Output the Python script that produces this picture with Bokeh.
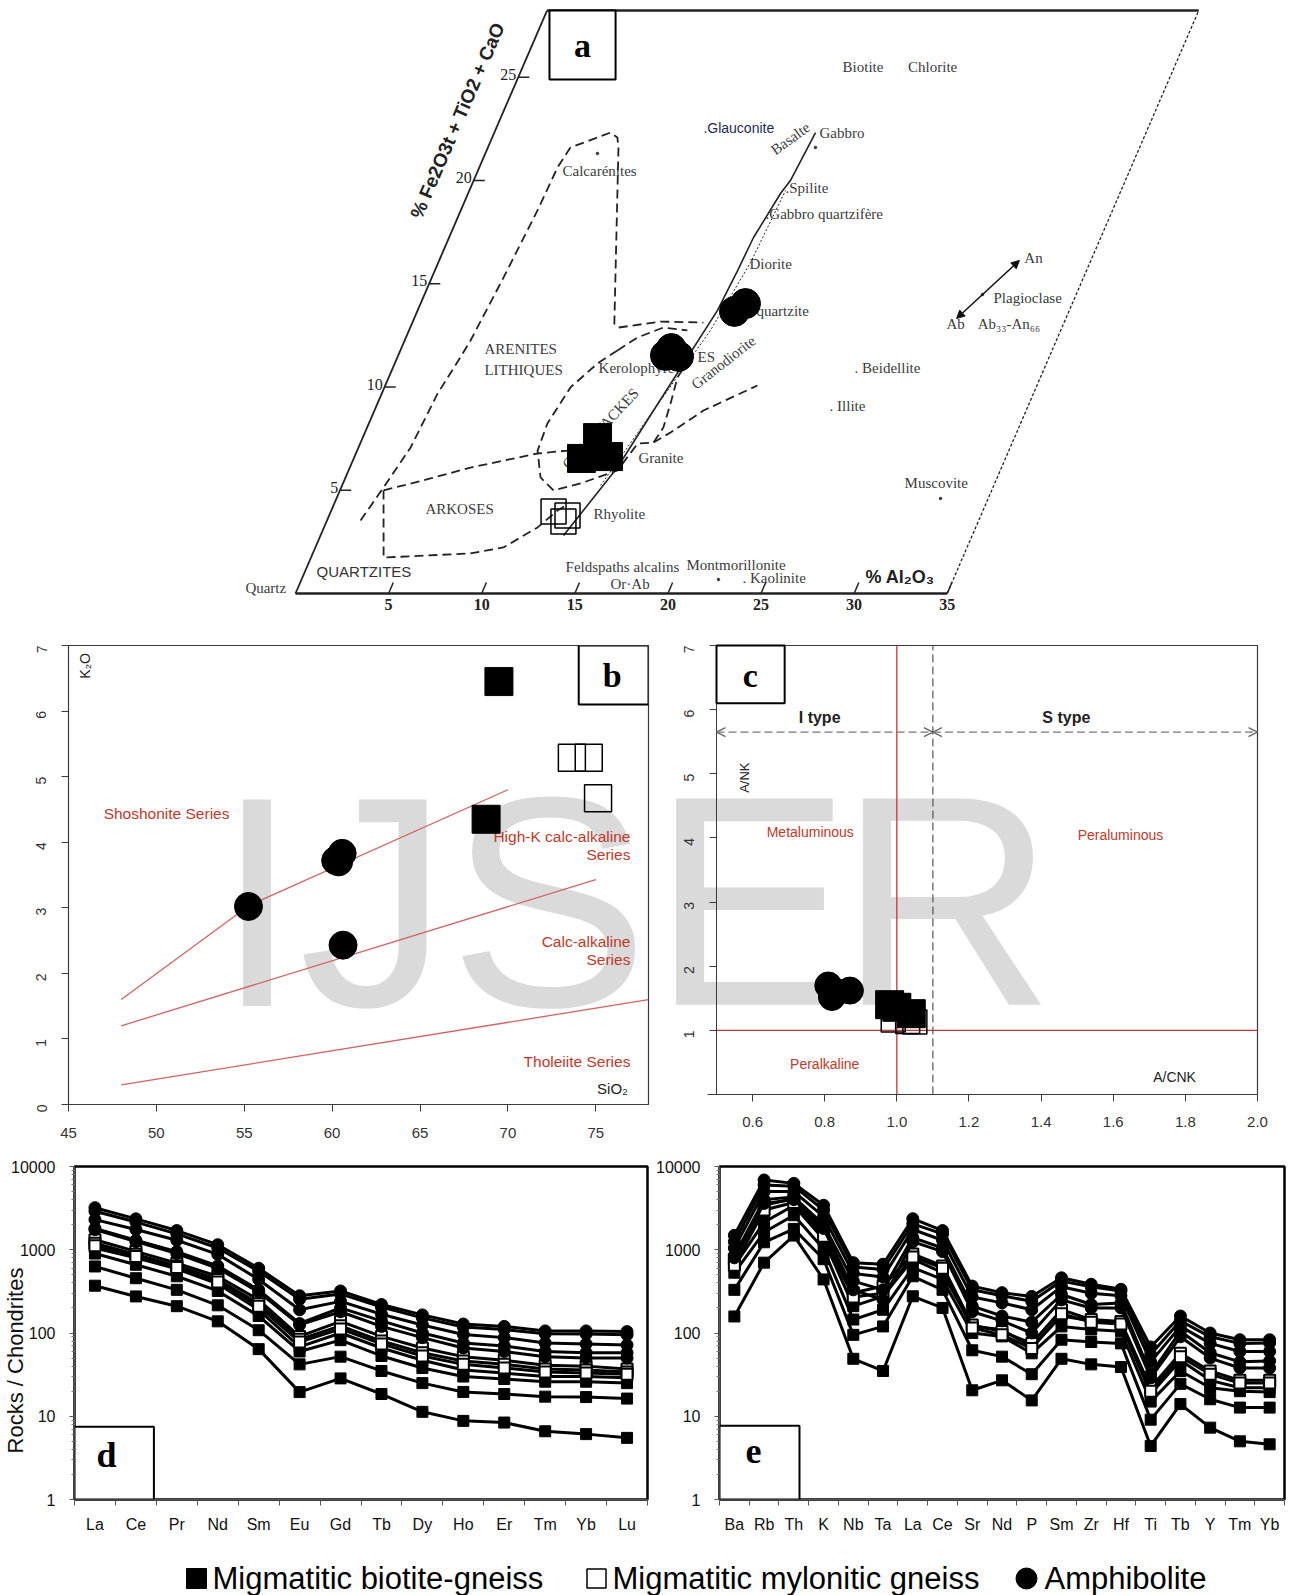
import math
from bokeh.plotting import figure
from bokeh.layouts import column, row
from bokeh.models import Range1d, FixedTicker, Label, BoxAnnotation, Arrow, NormalHead, OpenHead
from bokeh.core.properties import value
from bokeh.embed import file_html
from bokeh.resources import INLINE

SANS = "Liberation Sans"
SERIF = "Liberation Serif"
RED_LINE = "#d06464"
RED_TEXT = "#c0392b"
AXC = "#3a3a3a"
GTXT = "#3c3c3c"
WM = "#dadada"

# ======================= DATA =======================
# ---- panel a (Al2O3 vs Fe2O3t+TiO2+CaO, skewed diagram) ----
A_AL_TICKS = [5, 10, 15, 20, 25, 30, 35]
A_F_TICKS = [5, 10, 15, 20, 25]
A_AL_MAX = 35
A_F_MAX = 28.23

A_BIO_AL = [12.61, 12.23, 13.64]
A_BIO_F = [7.55, 6.54, 6.63]
A_MYL_AL = [11.96, 12.72, 12.80]
A_MYL_F = [3.97, 3.49, 3.78]
A_AMP_AL = [14.35, 15.08, 14.51, 17.04, 17.45]
A_AMP_F = [11.53, 11.48, 11.86, 13.66, 14.04]

OUTER_AL = [1.80, 2.27, 2.80, 3.00, 3.35, 3.54, 3.85, 4.12, 4.20, 4.43, 5.65, 6.24, 6.72, 7.01, 10.87, 11.19, 13.30, 15.63]
OUTER_F = [3.54, 5.13, 7.07, 9.69, 11.28, 12.25, 15.30, 18.55, 20.63, 21.60, 22.08, 22.32, 22.08, 21.60, 13.07, 12.88, 13.17, 13.12]
INNER_AL = [11.66, 12.44, 13.60, 14.95]
INNER_F = [11.77, 12.40, 12.88, 12.74]
GRAUW_AL = [11.66, 10.89, 9.99, 9.59, 9.69, 10.47, 11.47, 12.76, 14.44, 14.90, 15.73, 15.91, 15.74, 15.51, 15.74]
GRAUW_F = [11.77, 11.14, 9.98, 8.23, 6.92, 5.62, 4.99, 5.33, 5.96, 7.26, 7.31, 8.04, 9.20, 10.46, 11.43]
LOWER_AL = [15.73, 16.41, 17.67, 19.99]
LOWER_F = [7.31, 7.80, 8.86, 10.07]
ARKTOP_AL = [2.34, 4.58, 6.48, 9.76, 11.30, 11.95]
ARKTOP_F = [4.99, 5.57, 6.10, 6.78, 6.92, 7.02]
ARKBOT_AL = [2.34, 3.90, 8.47, 10.10, 11.47, 12.15, 12.46]
ARKBOT_F = [4.99, 1.74, 1.94, 2.23, 3.20, 4.02, 4.26]
MAGMA_AL = [13.05, 14.37, 14.99, 15.51, 16.10, 16.26, 16.35, 16.78, 17.01, 17.25]
MAGMA_F = [2.81, 6.10, 8.86, 11.14, 13.70, 15.64, 17.24, 19.37, 20.00, 22.32]
DOTTED_AL = [13.88, 15.13, 16.19, 16.77, 16.98]
DOTTED_F = [5.23, 9.35, 12.74, 16.03, 19.52]
PLAG_AL = [29.13, 31.16]
PLAG_F = [13.32, 16.13]
MINDOT_AL = [32.44, 22.39, 17.59, 29.97, 6.02]
MINDOT_F = [4.60, 0.68, 21.60, 14.48, 21.31]

LBL_TEXT = ["Biotite", "Chlorite", "Gabbro", ".Spilite", ".Gabbro quartzifère", "Diorite", "quartzite",
            "An", "Plagioclase", "Ab", "Ab₃₃-An₆₆", ". Beidellite", ". Illite", "Muscovite",
            "Kerolophyre", "Granite", "Rhyolite", "Quartz", "Feldspaths alcalins", "Or·Ab",
            "Montmorillonite", ". Kaolinite", "Calcarénites"]
LBL_AL = [17.17, 20.69, 17.48, 16.91, 16.44, 16.73, 18.20, 31.36, 30.65, 28.73, 30.40, 24.81, 24.35, 30.16,
          11.06, 15.29, 14.15, -2.83, 13.90, 16.69, 20.35, 23.64, 4.54]
LBL_F = [25.52, 25.52, 22.28, 19.66, 18.40, 15.98, 13.70, 16.27, 14.29, 13.03, 13.03, 10.90, 9.06, 5.33,
         10.90, 6.54, 3.87, 0.29, 1.26, 0.48, 1.36, 0.77, 20.48]
CAPS_TEXT = ["ARENITES", "LITHIQUES", "ARKOSES", "ES"]
CAPS_AL = [4.47, 4.98, 5.03, 16.12]
CAPS_F = [11.86, 10.80, 4.07, 11.43]
ROT_TEXT = ["Basalte", "Granodiorite", "GRAUWACKES"]
ROT_AL = [16.04, 17.63, 12.56]
ROT_F = [22.03, 11.19, 7.99]
ROT_DEG = [36, 38, 47]

# ---- panel b (SiO2 vs K2O) ----
B_X_TICKS = [45, 50, 55, 60, 65, 70, 75]
B_Y_TICKS = [0, 1, 2, 3, 4, 5, 6, 7]
B_BIO_SIO2 = [69.49, 68.76]
B_BIO_K2O = [6.45, 4.35]
B_MYL_SIO2 = [73.64, 74.60, 75.13]
B_MYL_K2O = [5.29, 5.29, 4.67]
B_AMP_SIO2 = [55.24, 60.57, 60.37, 60.20, 60.62]
B_AMP_K2O = [3.02, 3.83, 3.70, 3.72, 2.43]
SHO_SIO2 = [48, 55.3, 70]
SHO_K2O = [1.6, 3.04, 4.80]
HK_SIO2 = [48, 75]
HK_K2O = [1.2, 3.43]
TH_SIO2 = [48, 78]
TH_K2O = [0.3, 1.6]
B_SERIES_TEXT = ["High-K calc-alkaline", "Series", "Calc-alkaline", "Series", "Tholeiite Series"]
B_SERIES_Y = [4.08, 3.81, 2.48, 2.21, 0.65]

# ---- panel c (A/CNK vs A/NK) ----
C_X_TICKS = [0.6, 0.8, 1.0, 1.2, 1.4, 1.6, 1.8, 2.0]
C_Y_TICKS = [0, 1, 2, 3, 4, 5, 6, 7]
C_X_MIN, C_X_MAX = 0.5, 2.0
C_Y_MIN, C_Y_MAX = 0, 7
C_BIO_ACNK = [0.98, 1.04, 1.00]
C_BIO_ANK = [1.40, 1.26, 1.36]
C_MYL_ACNK = [0.99, 1.03, 1.05]
C_MYL_ANK = [1.16, 1.14, 1.13]
C_AMP_ACNK = [0.81, 0.82, 0.87, 0.83]
C_AMP_ANK = [1.70, 1.52, 1.62, 1.60]

# ---- panel d (REE / chondrite) ----
D_CATS = ["La", "Ce", "Pr", "Nd", "Sm", "Eu", "Gd", "Tb", "Dy", "Ho", "Er", "Tm", "Yb", "Lu"]
D_BIO_1 = [1050, 800, 590, 390, 190, 68, 100, 66, 47, 36, 33, 30, 30, 29]
D_BIO_2 = [900, 660, 480, 320, 160, 60, 82, 53, 38, 30, 28, 26, 26, 25]
D_BIO_3 = [630, 455, 330, 215, 108, 42, 52, 35, 25, 19.6, 18.5, 17.2, 17, 16.3]
D_BIO_4 = [370, 275, 210, 138, 64, 19.5, 28.5, 18.5, 11.3, 8.8, 8.4, 6.6, 6.1, 5.5]
D_MYL_1 = [1320, 955, 690, 480, 250, 91, 138, 91, 66, 52, 47, 41, 40, 37]
D_MYL_2 = [1200, 880, 640, 440, 225, 84, 122, 80, 58, 46, 42, 37, 36, 34]
D_MYL_3 = [1120, 830, 610, 410, 210, 78, 112, 74, 53, 42, 38, 34, 33, 32]
D_AMP_1 = [3200, 2350, 1700, 1150, 600, 280, 320, 220, 165, 128, 120, 106, 106, 104]
D_AMP_2 = [2900, 2150, 1550, 1050, 550, 255, 295, 205, 152, 118, 110, 98, 97, 95]
D_AMP_3 = [2300, 1750, 1300, 880, 440, 190, 240, 168, 125, 96, 88, 76, 74, 72]
D_AMP_4 = [1800, 1300, 950, 640, 330, 130, 200, 140, 100, 76, 70, 60, 58, 58]
D_AMP_5 = [1750, 1250, 900, 600, 310, 125, 180, 120, 88, 66, 60, 52, 50, 50]

# ---- panel e (multi-element spider) ----
E_CATS = ["Ba", "Rb", "Th", "K", "Nb", "Ta", "La", "Ce", "Sr", "Nd", "P", "Sm", "Zr", "Hf", "Ti", "Tb", "Y", "Tm", "Yb"]
E_BIO_1 = [640, 2150, 3400, 1340, 210, 275, 770, 530, 120, 110, 68, 160, 140, 130, 18.5, 47, 27, 22, 22]
E_BIO_2 = [530, 1620, 2600, 1020, 145, 190, 610, 440, 100, 91, 57, 120, 110, 105, 15, 35, 22, 20, 19.5]
E_BIO_3 = [330, 1230, 1780, 770, 95, 120, 480, 330, 62, 52, 32, 83, 78, 75, 9.1, 24.5, 16, 12.7, 12.7]
E_BIO_4 = [158, 700, 1480, 440, 49, 35, 276, 200, 20.5, 27, 15.5, 49, 42, 39, 4.4, 14, 7.3, 5.0, 4.6]
E_MYL_1 = [770, 3420, 4130, 1620, 305, 365, 890, 640, 125, 104, 75, 190, 145, 137, 22, 57, 35, 27, 27]
E_MYL_2 = [650, 3000, 3700, 1450, 270, 300, 820, 600, 115, 95, 65, 170, 135, 128, 20, 52, 32, 25, 25]
E_AMP_1 = [1490, 6890, 6270, 3420, 700, 670, 2360, 1700, 366, 305, 275, 460, 385, 335, 68, 160, 100, 83, 83]
E_AMP_2 = [1250, 6000, 5800, 3000, 620, 580, 2050, 1550, 330, 280, 240, 420, 360, 320, 55, 140, 90, 75, 76]
E_AMP_3 = [1050, 5000, 5000, 2500, 520, 470, 1750, 1300, 270, 230, 190, 360, 300, 280, 45, 120, 75, 60, 60]
E_AMP_4 = [850, 4000, 4300, 2000, 420, 330, 1400, 1050, 210, 160, 135, 290, 220, 230, 32, 105, 58, 45, 46]
E_AMP_5 = [800, 3600, 4000, 1800, 330, 250, 1250, 950, 180, 140, 100, 250, 200, 200, 29, 90, 50, 38, 38]

LOG_TICKS = [1, 10, 100, 1000, 10000]
LEG_LABELS = ["Migmatitic biotite-gneiss", "Migmatitic mylonitic gneiss", "Amphibolite"]

# ======================= PANEL a =======================
SHEAR = 0.4785


def sh(al, f):
    return [a + SHEAR * b for a, b in zip(al, f)]


pa = figure(width=1289, height=620, x_range=Range1d(-15.843, 53.384), y_range=Range1d(-1.3075, 28.717),
            x_axis_type=None, y_axis_type=None, toolbar_location=None, output_backend="svg",
            min_border=0, outline_line_color=None, title=None)


def aline(al, f, **kw):
    pa.line(sh(al, f), f, **kw)


aline([0, A_AL_MAX], [0, 0], line_color="#222", line_width=2.5)
aline([0, 0], [0, A_F_MAX], line_color="#222", line_width=1.8)
aline([0, A_AL_MAX], [A_F_MAX, A_F_MAX], line_color="#222", line_width=2.5)
aline([A_AL_MAX, A_AL_MAX], [0, A_F_MAX], line_color="#222", line_width=1.3, line_dash="3 2")

nF = len(A_F_TICKS)
nA = len(A_AL_TICKS)
pa.segment(x0=sh([0] * nF, A_F_TICKS), y0=A_F_TICKS, x1=sh([0.6] * nF, A_F_TICKS), y1=A_F_TICKS,
           line_color="#222", line_width=1.5)
pa.segment(x0=A_AL_TICKS, y0=[0] * nA, x1=sh(A_AL_TICKS, [0.53] * nA), y1=[0.53] * nA,
           line_color="#222", line_width=1.5)
pa.text(x=sh([-0.1] * nF, A_F_TICKS), y=A_F_TICKS, text=[str(v) for v in A_F_TICKS],
        text_align="right", text_baseline="middle", y_offset=-3,
        text_font=value(SERIF), text_font_size="16px", text_color="#222")
pa.text(x=A_AL_TICKS, y=[0] * nA, text=[str(v) for v in A_AL_TICKS],
        text_align="center", text_baseline="top", y_offset=5,
        text_font=value(SERIF), text_font_size="16px", text_font_style="bold", text_color="#222")

for al, f in [(OUTER_AL, OUTER_F), (INNER_AL, INNER_F), (GRAUW_AL, GRAUW_F), (LOWER_AL, LOWER_F),
              (ARKTOP_AL, ARKTOP_F), (ARKBOT_AL, ARKBOT_F)]:
    aline(al, f, line_color="#222", line_width=1.8, line_dash="9 5")
aline(MAGMA_AL, MAGMA_F, line_color="#222", line_width=1.6)
aline(DOTTED_AL, DOTTED_F, line_color="#222", line_width=1.0, line_dash="2 2")
pa.scatter(sh(MINDOT_AL, MINDOT_F), MINDOT_F, marker="circle", size=2.5, color="#333")

px0, px1 = sh(PLAG_AL, PLAG_F)
pa.add_layout(Arrow(start=NormalHead(size=8, fill_color="#111", line_color="#111"),
                    end=NormalHead(size=8, fill_color="#111", line_color="#111"),
                    x_start=px0, y_start=PLAG_F[0], x_end=px1, y_end=PLAG_F[1],
                    line_color="#111", line_width=1.5))

pa.text(x=sh(LBL_AL, LBL_F), y=LBL_F, text=LBL_TEXT, text_align="left", text_baseline="middle",
        text_font=value(SERIF), text_font_size="15px", text_color=GTXT)
pa.text(x=sh(CAPS_AL, CAPS_F), y=CAPS_F, text=CAPS_TEXT, text_align="left", text_baseline="middle",
        text_font=value(SERIF), text_font_size="15px", text_color=GTXT)
for t, al, f, d in zip(ROT_TEXT, ROT_AL, ROT_F, ROT_DEG):
    pa.text(x=sh([al], [f]), y=[f], text=[t], angle=math.radians(d), text_align="center",
            text_baseline="middle", text_font=value(SERIF), text_font_size="15px", text_color=GTXT)
pa.text(x=sh([11.13], [22.52]), y=[22.52], text=[".Glauconite"], text_align="left", text_baseline="middle",
        text_font=value(SANS), text_font_size="14px", text_color="#1f2a5a")
pa.text(x=sh([0.62], [1.07]), y=[1.07], text=["QUARTZITES"], text_align="left", text_baseline="middle",
        text_font=value(SANS), text_font_size="15px", text_color="#333")
pa.text(x=sh([-2.26], [22.9]), y=[22.9], text=["% Fe2O3t + TiO2 + CaO"], angle=math.radians(66.7),
        text_align="center", text_baseline="middle", text_font=value(SANS), text_font_size="19px",
        text_font_style="bold", text_color="#222")
pa.text(x=sh([30.24], [0.775]), y=[0.775], text=["% Al₂O₃"], text_align="left", text_baseline="middle",
        text_font=value(SANS), text_font_size="18px", text_font_style="bold", text_color="#222")

pa.scatter(sh(A_MYL_AL, A_MYL_F), A_MYL_F, marker="square", size=25, fill_color=None,
           line_color="black", line_width=1.5)
pa.scatter(sh(A_BIO_AL, A_BIO_F), A_BIO_F, marker="square", size=28, color="black")
pa.scatter(sh(A_AMP_AL, A_AMP_F), A_AMP_F, marker="circle", size=30, color="black")

pa.add_layout(BoxAnnotation(left=13.64, right=17.19, bottom=24.89, top=28.23, fill_color="white",
                            fill_alpha=1, line_color="black", line_alpha=1, line_width=2))
pa.add_layout(Label(x=15.41, y=26.54, text="a", text_align="center", text_baseline="middle",
                    text_font=SERIF, text_font_size="34px", text_font_style="bold", text_color="black"))


# ======================= helpers for R-style panels =======================
def r_style(p, xt, yt, xstand):
    p.grid.visible = False
    p.outline_line_color = AXC
    p.outline_line_width = 1.2
    p.xaxis.ticker = FixedTicker(ticks=xt)
    p.yaxis.ticker = FixedTicker(ticks=yt)
    for ax in (p.xaxis, p.yaxis):
        ax.axis_line_color = AXC
        ax.major_tick_line_color = AXC
        ax.major_tick_out = 7
        ax.major_tick_in = 0
        ax.minor_tick_line_color = None
        ax.major_label_text_font = SANS
        ax.major_label_text_color = "#333"
    p.xaxis.major_label_text_font_size = "15px"
    p.yaxis.major_label_text_font_size = "14px"
    p.yaxis.major_label_orientation = math.pi / 2
    p.xaxis.major_label_standoff = xstand
    p.yaxis.major_label_standoff = 20


# ======================= PANEL b =======================
pb = figure(width=650, height=540, x_range=Range1d(45, 78), y_range=Range1d(0, 7),
            toolbar_location=None, output_backend="svg", title=None,
            min_border_left=68, min_border_right=2, min_border_top=25, min_border_bottom=56)
r_style(pb, B_X_TICKS, B_Y_TICKS, 16)
pb.add_layout(Label(x=53.36, y=3.09, text="IJS", text_font=SANS, text_font_size="300px",
                    text_color=WM, text_baseline="middle", level="underlay"))
for xs, ys in [(SHO_SIO2, SHO_K2O), (HK_SIO2, HK_K2O), (TH_SIO2, TH_K2O)]:
    pb.line(xs, ys, line_color=RED_LINE, line_width=1.3)
pb.text(x=[47.0], y=[4.44], text=["Shoshonite Series"], text_align="left", text_baseline="middle",
        text_font=value(SANS), text_font_size="15.5px", text_color=RED_TEXT)
pb.text(x=[76.97] * len(B_SERIES_TEXT), y=B_SERIES_Y, text=B_SERIES_TEXT, text_align="right",
        text_baseline="middle", text_font=value(SANS), text_font_size="15.5px", text_color=RED_TEXT)
pb.text(x=[76.83], y=[0.25], text=["SiO₂"], text_align="right", text_baseline="middle",
        text_font=value(SANS), text_font_size="15px", text_color="#222")
pb.text(x=[45.94], y=[6.69], text=["K₂O"], angle=math.pi / 2, text_align="center", text_baseline="middle",
        text_font=value(SANS), text_font_size="14px", text_color="#222")
pb.scatter(B_MYL_SIO2, B_MYL_K2O, marker="square", size=27, fill_color=None, line_color="black", line_width=1.5)
pb.scatter(B_BIO_SIO2, B_BIO_K2O, marker="square", size=28, color="black")
pb.scatter(B_AMP_SIO2, B_AMP_K2O, marker="circle", size=28, color="black")
pb.add_layout(BoxAnnotation(left=74.03, right=78, bottom=6.10, top=7, fill_color="white", fill_alpha=1,
                            line_color="black", line_alpha=1, line_width=2))
pb.add_layout(Label(x=75.94, y=6.54, text="b", text_align="center", text_baseline="middle",
                    text_font=SERIF, text_font_size="34px", text_font_style="bold", text_color="black"))

# ======================= PANEL c =======================
# The frame reaches into the gap on the left so the watermark is not clipped;
# the y axis is fixed at A/CNK = 0.5 and the box is drawn along the data limits.
C_PX_PER_X = 360.7
C_PX_PER_Y = 64.14
pc = figure(width=639, height=540,
            x_range=Range1d(C_X_MIN - 66 / C_PX_PER_X, C_X_MAX + 2 / C_PX_PER_X),
            y_range=Range1d(C_Y_MIN, C_Y_MAX + 2 / C_PX_PER_Y),
            toolbar_location=None, output_backend="svg", title=None,
            min_border_left=0, min_border_right=30, min_border_top=23, min_border_bottom=66)
r_style(pc, C_X_TICKS, C_Y_TICKS, 15)
pc.outline_line_color = None
pc.yaxis.fixed_location = C_X_MIN
pc.yaxis.bounds = (C_Y_MIN, C_Y_MAX)
pc.xaxis.bounds = (C_X_MIN - 9 / C_PX_PER_X, C_X_MAX)
pc.xaxis.major_label_overrides = {v: f"{v:.1f}" for v in C_X_TICKS}
pc.add_layout(Label(x=0.3198, y=3.02, text="E", text_font=SANS, text_font_size="300px",
                    text_color=WM, text_baseline="middle", level="underlay"))
pc.add_layout(Label(x=0.838, y=3.02, text="R", text_font=SANS, text_font_size="300px",
                    text_color=WM, text_baseline="middle", level="underlay"))
pc.line([C_X_MIN, C_X_MAX, C_X_MAX], [C_Y_MAX, C_Y_MAX, C_Y_MIN], line_color=AXC, line_width=1.2)
pc.line([1.0, 1.0], [0, 7], line_color="#cc3333", line_width=1.3)
pc.line([0.5, 2.0], [1.0, 1.0], line_color="#cc3333", line_width=1.3)
pc.line([1.1, 1.1], [0, 7], line_color="#555", line_width=1.2, line_dash="8 4")
for xa, xb in [(0.5, 1.1), (1.1, 2.0)]:
    pc.add_layout(Arrow(start=OpenHead(size=9, line_color="#666", line_width=1.2),
                        end=OpenHead(size=9, line_color="#666", line_width=1.2),
                        x_start=xa, y_start=5.65, x_end=xb, y_end=5.65,
                        line_color="#777", line_width=1.2, line_dash="8 4"))
pc.text(x=[0.786, 1.47], y=[5.88, 5.88], text=["I type", "S type"], text_align="center", text_baseline="middle",
        text_font=value(SANS), text_font_size="16px", text_font_style="bold", text_color="#222")
pc.text(x=[0.76, 1.62, 0.80], y=[4.10, 4.05, 0.47], text=["Metaluminous", "Peraluminous", "Peralkaline"],
        text_align="center", text_baseline="middle", text_font=value(SANS), text_font_size="14px",
        text_color=RED_TEXT)
pc.text(x=[1.77], y=[0.28], text=["A/CNK"], text_align="center", text_baseline="middle",
        text_font=value(SANS), text_font_size="14px", text_color="#222")
pc.text(x=[0.578], y=[4.94], text=["A/NK"], angle=math.pi / 2, text_align="center", text_baseline="middle",
        text_font=value(SANS), text_font_size="13px", text_color="#222")
pc.scatter(C_MYL_ACNK, C_MYL_ANK, marker="square", size=24, fill_color=None, line_color="black", line_width=1.5)
pc.scatter(C_BIO_ACNK, C_BIO_ANK, marker="square", size=28, color="black")
pc.scatter(C_AMP_ACNK, C_AMP_ANK, marker="circle", size=27, color="black")
pc.add_layout(BoxAnnotation(left=0.5, right=0.689, bottom=6.10, top=7, fill_color="white", fill_alpha=1,
                            line_color="black", line_alpha=1, line_width=2))
pc.add_layout(Label(x=0.594, y=6.53, text="c", text_align="center", text_baseline="middle",
                    text_font=SERIF, text_font_size="34px", text_font_style="bold", text_color="black"))


# ======================= spider panels =======================
def spider_fig(cats, width, left, right, top, bottom):
    n = len(cats)
    p = figure(width=width, height=385, x_range=Range1d(-0.5, n - 0.5), y_range=Range1d(1, 10000),
               y_axis_type="log", toolbar_location=None, output_backend="svg", title=None,
               min_border_left=left, min_border_right=right, min_border_top=top, min_border_bottom=bottom)
    p.grid.visible = False
    p.outline_line_color = "black"
    p.outline_line_width = 2.5
    p.xaxis.ticker = FixedTicker(ticks=list(range(n)), minor_ticks=[i - 0.5 for i in range(n + 1)])
    p.xaxis.major_label_overrides = {i: c for i, c in enumerate(cats)}
    p.xaxis.major_tick_out = 0
    p.xaxis.major_tick_in = 0
    p.xaxis.minor_tick_out = 6
    p.xaxis.minor_tick_in = 0
    p.xaxis.minor_tick_line_color = "#555"
    p.xaxis.major_label_standoff = 10
    minors = [m * 10 ** k for k in range(4) for m in range(2, 10)]
    p.yaxis.ticker = FixedTicker(ticks=LOG_TICKS, minor_ticks=minors)
    p.yaxis.major_label_overrides = {v: str(v) for v in LOG_TICKS}
    p.yaxis.major_tick_out = 5
    p.yaxis.major_tick_in = 0
    p.yaxis.minor_tick_out = 3
    p.yaxis.minor_tick_in = 0
    p.yaxis.major_label_standoff = 14
    for ax in (p.xaxis, p.yaxis):
        ax.axis_line_color = "#555"
        ax.major_tick_line_color = "#555"
        ax.major_label_text_font = SANS
        ax.major_label_text_font_size = "16px"
        ax.major_label_text_color = "#111"
    p.yaxis.minor_tick_line_color = "#777"
    return p


def draw_series(p, vals, kind):
    xs = list(range(len(vals)))
    p.line(xs, vals, line_color="black", line_width=3)
    if kind == "bio":
        p.scatter(xs, vals, marker="square", size=11, color="black")
    elif kind == "myl":
        p.scatter(xs, vals, marker="square", size=11, fill_color="white", line_color="black", line_width=2)
    else:
        p.scatter(xs, vals, marker="circle", size=12, color="black")


pdd = spider_fig(D_CATS, 650, 74, 3, 6, 46)
for s in (D_BIO_1, D_BIO_2, D_BIO_3, D_BIO_4):
    draw_series(pdd, s, "bio")
for s in (D_MYL_1, D_MYL_2, D_MYL_3):
    draw_series(pdd, s, "myl")
for s in (D_AMP_1, D_AMP_2, D_AMP_3, D_AMP_4, D_AMP_5):
    draw_series(pdd, s, "amp")
pdd.yaxis.axis_label = "Rocks / Chondrites" + "\u00a0" * 9
pdd.yaxis.axis_label_text_font = SANS
pdd.yaxis.axis_label_text_font_size = "22px"
pdd.yaxis.axis_label_text_font_style = "normal"
pdd.yaxis.axis_label_text_color = "#111"
pdd.yaxis.axis_label_standoff = -20
pdd.add_layout(BoxAnnotation(left=-0.5, right=1.44, bottom=1, top=7.5, fill_color="white", fill_alpha=1,
                             line_color="black", line_alpha=1, line_width=2))
pdd.add_layout(Label(x=0.28, y=3.47, text="d", text_align="center", text_baseline="middle",
                     text_font=SERIF, text_font_size="36px", text_font_style="bold", text_color="black"))

pe = spider_fig(E_CATS, 639, 69, 5, 6, 46)
for s in (E_BIO_1, E_BIO_2, E_BIO_3, E_BIO_4):
    draw_series(pe, s, "bio")
for s in (E_MYL_1, E_MYL_2):
    draw_series(pe, s, "myl")
for s in (E_AMP_1, E_AMP_2, E_AMP_3, E_AMP_4, E_AMP_5):
    draw_series(pe, s, "amp")
pe.add_layout(BoxAnnotation(left=-0.5, right=2.19, bottom=1, top=7.7, fill_color="white", fill_alpha=1,
                            line_color="black", line_alpha=1, line_width=2))
pe.add_layout(Label(x=0.645, y=3.83, text="e", text_align="center", text_baseline="middle",
                    text_font=SERIF, text_font_size="36px", text_font_style="bold", text_color="black"))

# ======================= legend =======================
pl = figure(width=1289, height=50, x_range=Range1d(0, 1289), y_range=Range1d(1595, 1545),
            x_axis_type=None, y_axis_type=None, toolbar_location=None, output_backend="svg",
            min_border=0, outline_line_color=None, title=None)
LEG_MX = [196, 596, 1026]
pl.scatter([LEG_MX[0]], [1578], marker="square", size=20, color="black")
pl.scatter([LEG_MX[1]], [1578], marker="square", size=19, fill_color="white", line_color="black", line_width=1.5)
pl.scatter([LEG_MX[2]], [1578], marker="circle", size=21, color="black")
pl.text(x=[212, 612, 1044], y=[1578] * 3, text=LEG_LABELS, text_align="left", text_baseline="middle",
        text_font=value(SANS), text_font_size="31px", text_color="black")

layout = column(pa, row(column(pb), column(pc)), row(pdd, pe), pl)
open("out.html", "w").write(file_html(layout, INLINE))
